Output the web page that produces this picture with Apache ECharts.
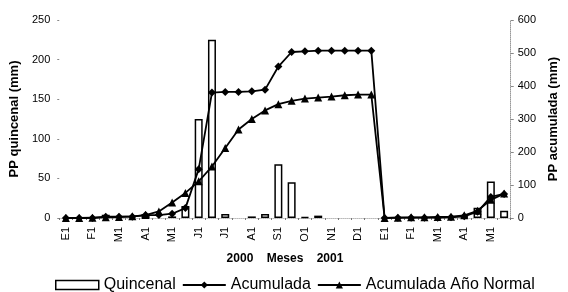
<!DOCTYPE html>
<html>
<head>
<meta charset="utf-8">
<script src="https://cdn.jsdelivr.net/npm/echarts@6/dist/echarts.min.js"></script>
<style>html,body{margin:0;padding:0;background:#fff}#c{width:568px;height:292px}</style>
</head>
<body>
<div id="c"></div>
<script>
const categories = ['E1','E2','F1','F2','M1','M2','A1','A2','M1','M2','J1','J2','J1','J2','A1','A2','S1','S2','O1','O2','N1','N2','D1','D2',
                    'E1','E2','F1','F2','M1','M2','A1','A2','M1','M2'];
const quincenal = [null,null,null,4,null,null,5,null,2,15,125,225,5,null,2,5,68,45,1,3,null,null,null,null,
                   null,null,null,null,null,null,1,13,46,9];
const acumulada = [0,0,0,4,4,4,9,9,13,30,148,380,382,382,384,389,459,503,505,507,507,507,507,507,
                   0,1,1,1,1,2,5,19,64,73];
const acumNormal = [0,0,1,2,3,5,9,20,47,76,111,156,212,268,300,326,345,355,362,365,368,372,374,374,
                    0,1,2,2,3,4,8,22,55,74];
const leftTicks = {min:0, max:250, interval:50};
const rightTicks = {min:0, max:600, interval:100};

const chart = echarts.init(document.getElementById('c'), null, {renderer:'canvas'});
const font = 'Liberation Sans, Arial, sans-serif';
chart.setOption({
  animation:false,
  textStyle:{fontFamily:font},
  grid:{left:57, right:47, top:20, bottom:74},
  legend:{
    left:50, top:272, itemGap:6, itemWidth:43, itemHeight:9,
    textStyle:{fontSize:16, color:'#000', fontFamily:font},
    data:[
      {name:'Quincenal', icon:'rect', itemStyle:{color:'#fff', borderColor:'#000', borderWidth:1.5}},
      {name:'Acumulada'},
      {name:'Acumulada Año Normal'}
    ]
  },
  xAxis:{
    type:'category', data:categories, boundaryGap:true,
    name:'2000    Meses    2001', nameLocation:'middle', nameGap:35,
    nameTextStyle:{fontSize:12, fontWeight:'bold', color:'#000'},
    axisLine:{show:true, lineStyle:{color:'#bbb', type:'dotted', width:1}},
    axisTick:{show:true, interval:0, length:2, lineStyle:{color:'#777'}},
    axisLabel:{interval:1, rotate:90, fontSize:11, color:'#000', margin:9}
  },
  yAxis:[
    {type:'value', min:leftTicks.min, max:leftTicks.max, interval:leftTicks.interval,
     name:'PP quincenal (mm)', nameLocation:'middle', nameGap:38, nameRotate:90,
     nameTextStyle:{fontSize:13, fontWeight:'bold', color:'#000'},
     axisLine:{show:false}, axisTick:{show:true, length:2, lineStyle:{color:'#888'}},
     axisLabel:{fontSize:11, color:'#000', margin:9}, splitLine:{show:false}},
    {type:'value', min:rightTicks.min, max:rightTicks.max, interval:rightTicks.interval, position:'right',
     name:'PP acumulada (mm)', nameLocation:'middle', nameGap:30, nameRotate:90,
     nameTextStyle:{fontSize:13, fontWeight:'bold', color:'#000'},
     axisLine:{show:true, lineStyle:{color:'#999', type:'dotted'}}, axisTick:{show:true, length:3, lineStyle:{color:'#888'}},
     axisLabel:{fontSize:11, color:'#000', margin:7}, splitLine:{show:false}}
  ],
  series:[
    {name:'Quincenal', type:'bar', yAxisIndex:0, data:quincenal, barWidth:8,
     itemStyle:{color:'#fff', borderColor:'#000', borderWidth:1.5}, z:1},
    {name:'Acumulada', type:'line', yAxisIndex:1, data:acumulada, symbol:'diamond', symbolSize:8,
     lineStyle:{color:'#000', width:1.8}, itemStyle:{color:'#000'}, z:3},
    {name:'Acumulada Año Normal', type:'line', yAxisIndex:1, data:acumNormal, symbol:'triangle', symbolSize:8,
     lineStyle:{color:'#000', width:1.8}, itemStyle:{color:'#000'}, z:2}
  ]
});
</script>
</body>
</html>
